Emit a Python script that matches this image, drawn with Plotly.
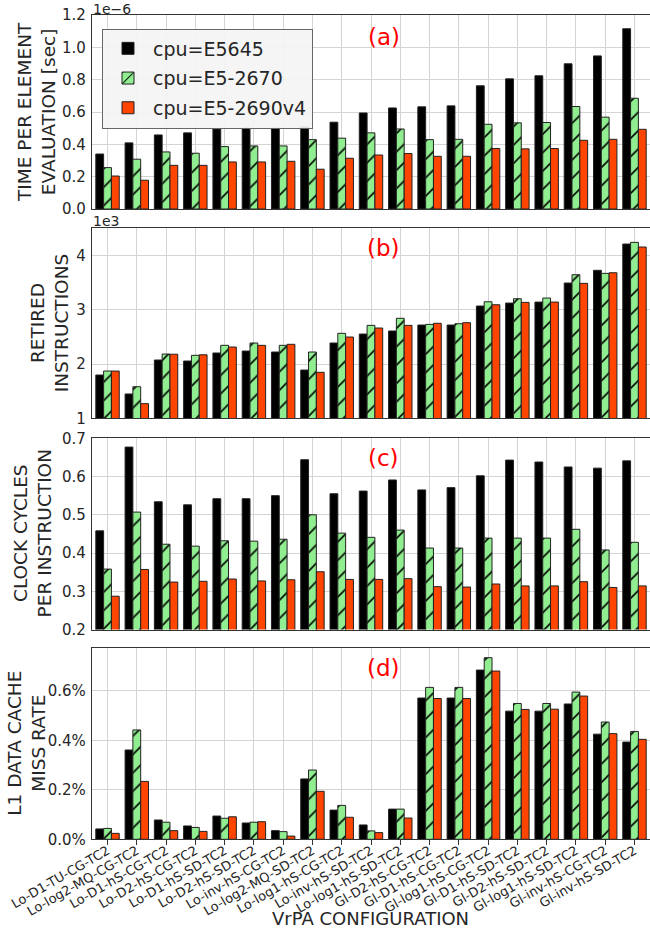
import plotly.graph_objects as go
from plotly.subplots import make_subplots

categories = [
    "Lo-D1-TU-CG-TC2", "Lo-log2-MQ-CG-TC2", "Lo-D1-hS-CG-TC2", "Lo-D2-hS-CG-TC2",
    "Lo-D1-hS-SD-TC2", "Lo-D2-hS-SD-TC2", "Lo-inv-hS-CG-TC2", "Lo-log2-MQ-SD-TC2",
    "Lo-log1-hS-CG-TC2", "Lo-inv-hS-SD-TC2", "Lo-log1-hS-SD-TC2", "Gl-D2-hS-CG-TC2",
    "Gl-D1-hS-CG-TC2", "Gl-log1-hS-CG-TC2", "Gl-D1-hS-SD-TC2", "Gl-D2-hS-SD-TC2",
    "Gl-log1-hS-SD-TC2", "Gl-inv-hS-CG-TC2", "Gl-inv-hS-SD-TC2",
]
series_names = ["cpu=E5645", "cpu=E5-2670", "cpu=E5-2690v4"]

# (a) time per element evaluation, in units of 1e-6 sec
time_e5645 = [0.340, 0.409, 0.458, 0.471, 0.495, 0.501, 0.501, 0.508, 0.537, 0.594,
              0.625, 0.632, 0.638, 0.762, 0.805, 0.824, 0.898, 0.947, 1.115]
time_e52670 = [0.256, 0.308, 0.353, 0.345, 0.386, 0.390, 0.390, 0.429, 0.438, 0.471,
               0.495, 0.429, 0.431, 0.524, 0.533, 0.535, 0.634, 0.568, 0.685]
time_e52690 = [0.204, 0.178, 0.270, 0.270, 0.291, 0.291, 0.295, 0.246, 0.314, 0.334,
               0.343, 0.326, 0.326, 0.374, 0.372, 0.374, 0.425, 0.431, 0.493]

# (b) retired instructions, in units of 1e3
instr_e5645 = [1.797, 1.448, 2.074, 2.055, 2.203, 2.239, 2.221, 1.889, 2.387, 2.552,
               2.608, 2.718, 2.718, 3.068, 3.123, 3.141, 3.492, 3.726, 4.210]
instr_e52670 = [1.871, 1.582, 2.184, 2.160, 2.344, 2.387, 2.344, 2.221, 2.565, 2.712,
                2.842, 2.730, 2.742, 3.147, 3.203, 3.215, 3.645, 3.670, 4.241]
instr_e52690 = [1.870, 1.270, 2.180, 2.170, 2.313, 2.344, 2.363, 1.847, 2.497, 2.663,
                2.712, 2.750, 2.761, 3.092, 3.135, 3.141, 3.486, 3.681, 4.155]

# (c) clock cycles per instruction
cpi_e5645 = [0.458, 0.677, 0.534, 0.526, 0.542, 0.542, 0.550, 0.644, 0.555, 0.562,
             0.591, 0.565, 0.571, 0.602, 0.643, 0.638, 0.625, 0.622, 0.641]
cpi_e52670 = [0.358, 0.507, 0.423, 0.418, 0.432, 0.431, 0.436, 0.500, 0.452, 0.441,
              0.460, 0.413, 0.413, 0.439, 0.439, 0.439, 0.462, 0.408, 0.428]
cpi_e52690 = [0.287, 0.357, 0.324, 0.326, 0.332, 0.327, 0.330, 0.351, 0.331, 0.331,
              0.333, 0.312, 0.311, 0.319, 0.314, 0.314, 0.325, 0.310, 0.314]

# (d) L1 data cache miss rate, in percent
miss_e5645 = [0.042, 0.361, 0.078, 0.054, 0.094, 0.066, 0.035, 0.244, 0.118, 0.058,
              0.122, 0.571, 0.571, 0.684, 0.518, 0.518, 0.547, 0.425, 0.393]
miss_e52670 = [0.044, 0.442, 0.069, 0.048, 0.085, 0.069, 0.031, 0.280, 0.137, 0.034,
               0.122, 0.614, 0.614, 0.734, 0.549, 0.549, 0.595, 0.474, 0.436]
miss_e52690 = [0.024, 0.234, 0.035, 0.032, 0.091, 0.071, 0.013, 0.194, 0.089, 0.027,
               0.086, 0.569, 0.569, 0.680, 0.525, 0.526, 0.579, 0.427, 0.404]

panels = [
    (time_e5645, time_e52670, time_e52690),
    (instr_e5645, instr_e52670, instr_e52690),
    (cpi_e5645, cpi_e52670, cpi_e52690),
    (miss_e5645, miss_e52670, miss_e52690),
]
panel_labels = ["(a)", "(b)", "(c)", "(d)"]
y_titles = ["TIME PER ELEMENT<br>EVALUATION [sec]", "RETIRED<br>INSTRUCTIONS",
            "CLOCK CYCLES<br>PER INSTRUCTION", "L1 DATA CACHE<br>MISS RATE"]

tickvals = [[0, 0.2, 0.4, 0.6, 0.8, 1.0, 1.2], [1, 2, 3, 4],
            [0.2, 0.3, 0.4, 0.5, 0.6, 0.7], [0, 0.2, 0.4, 0.6]]
ticktexts = [["0.0", "0.2", "0.4", "0.6", "0.8", "1.0", "1.2"], ["1", "2", "3", "4"],
             ["0.2", "0.3", "0.4", "0.5", "0.6", "0.7"], ["0.0%", "0.2%", "0.4%", "0.6%"]]

W, H = 650, 932
ML, MR = 92, 0
PW = W - ML - MR

def px_x(px):
    return (px - ML) / PW

def px_y(py):
    return 1 - py / H

FONT = "DejaVu Sans"
TXT = "#262626"
GRID = "#d4d4d4"
EDGE = "#222222"

fig = make_subplots(rows=4, cols=1, shared_xaxes=True)

styles = [
    dict(color="black", line=dict(color=EDGE, width=1)),
    dict(color="#90ee90", line=dict(color=EDGE, width=1),
         pattern=dict(shape="/", fgcolor="black", bgcolor="#90ee90", size=13, solidity=0.12)),
    dict(color="#ff4500", line=dict(color=EDGE, width=1)),
]

for r, vals in enumerate(panels, start=1):
    for s, (name, v) in enumerate(zip(series_names, vals)):
        fig.add_trace(go.Bar(x=categories, y=v, name=name, marker=styles[s],
                             legendgroup=name, showlegend=(r == 1)), row=r, col=1)

domains = [(15, 209), (228.3, 418.3), (438.3, 629.5), (648.3, 839.3)]
ranges = [[0, 1.2], [1, 4.5], [0.2, 0.7], [0, 0.772]]

for i in range(4):
    ya = "yaxis" if i == 0 else f"yaxis{i+1}"
    xa = "xaxis" if i == 0 else f"xaxis{i+1}"
    top, bot = domains[i]
    fig.layout[ya].update(
        domain=[px_y(bot), px_y(top)], range=ranges[i],
        tickmode="array", tickvals=tickvals[i], ticktext=ticktexts[i],
        showgrid=True, gridcolor=GRID, gridwidth=1.2, zeroline=False,
        showline=True, mirror=True, linecolor="#333333", linewidth=1.3,
        ticks="outside", ticklen=2, tickcolor="rgba(0,0,0,0)",
        tickfont=dict(family=FONT, size=15, color=TXT), automargin=False,
    )
    last = (i == 3)
    fig.layout[xa].update(
        range=[-0.53, 18.53], showgrid=True, gridcolor=GRID, gridwidth=1.2,
        showline=True, mirror=True, linecolor="#333333", linewidth=1.3,
        ticks="outside" if last else "", ticklen=5, tickcolor="#333333",
        showticklabels=last, tickangle=-30,
        tickfont=dict(family=FONT, size=13, color=TXT), automargin=False,
        zeroline=False,
    )
    if last:
        fig.layout[xa].update(ticklabelstandoff=-7)
    fig.add_annotation(text=panel_labels[i], xref=f"x{'' if i == 0 else i+1} domain",
                       yref=f"y{'' if i == 0 else i+1} domain", x=0.523,
                       y=0.885 if i == 0 else 0.896, showarrow=False,
                       font=dict(family=FONT, size=23, color="red"),
                       xanchor="center", yanchor="middle")

# y-axis titles as rotated annotations
title_x = [37, 49, 32.5, 27]
for i in range(4):
    top, bot = domains[i]
    fig.add_annotation(text=y_titles[i], xref="paper", yref="paper",
                       x=px_x(title_x[i]), y=px_y((top + bot) / 2), textangle=-90,
                       showarrow=False, xanchor="center", yanchor="middle",
                       font=dict(family=FONT, size=18.5, color=TXT))

# offset labels
fig.add_annotation(text="1e\u22126", xref="paper", yref="paper", x=px_x(91), y=px_y(9),
                   xanchor="left", yanchor="middle", showarrow=False,
                   font=dict(family=FONT, size=14, color=TXT))
fig.add_annotation(text="1e3", xref="paper", yref="paper", x=px_x(91), y=px_y(221),
                   xanchor="left", yanchor="middle", showarrow=False,
                   font=dict(family=FONT, size=14, color=TXT))

# x-axis title
fig.add_annotation(text="VrPA CONFIGURATION", xref="paper", yref="paper",
                   x=px_x(370), y=px_y(918), xanchor="center", yanchor="middle",
                   showarrow=False, font=dict(family=FONT, size=18, color=TXT))

fig.update_layout(
    width=W, height=H, template="none",
    margin=dict(l=ML, r=MR, t=0, b=0),
    paper_bgcolor="white", plot_bgcolor="white",
    barmode="group", bargap=0.2, bargroupgap=0.0,
    font=dict(family=FONT, color=TXT),
    legend=dict(x=px_x(102), y=px_y(28.5), xanchor="left", yanchor="top",
                bgcolor="rgba(244,244,244,0.92)", bordercolor="#666666", borderwidth=1,
                font=dict(family=FONT, size=19, color=TXT), tracegroupgap=2,
                itemwidth=40),
)

fig.write_html("out.html")
